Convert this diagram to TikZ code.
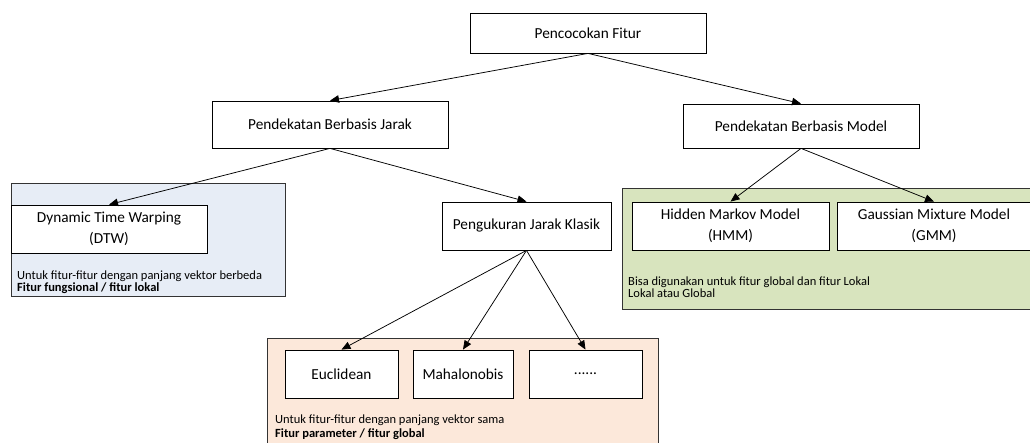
\documentclass[tikz,border=0pt]{standalone}
\usepackage{fontspec}
\setmainfont{Carlito}
\usetikzlibrary{arrows.meta}
\definecolor{panelblue}{RGB}{231,237,246}
\definecolor{panelgreen}{RGB}{216,228,190}
\definecolor{panelorange}{RGB}{252,232,218}
\tikzset{
  panel/.style={draw=black!80, line width=0.8pt},
  box/.style={draw, fill=white, line width=0.8pt, inner sep=2pt, align=center,
    font=\fontsize{15.3}{21}\selectfont},
  note/.style={anchor=base west, inner sep=0pt, align=left,
    font=\fontsize{12.5}{12.5}\selectfont},
  link/.style={-{Triangle[length=9pt,width=7.5pt]}, line width=0.75pt},
}
\begin{document}
\begin{tikzpicture}[x=1pt, y=-1pt]
\useasboundingbox (0,0) rectangle (1030,443);
\clip (0,0) rectangle (1030,443);

% grouping panels behind the leaf boxes
\path[panel, fill=panelblue]   (11,183)  rectangle (285,296);
\path[panel, fill=panelgreen]  (622,188) rectangle (1036,309);
\path[panel, fill=panelorange] (267,338) rectangle (658,450);

% tree nodes
\node[box, minimum width=236pt, minimum height=40pt] (top)   at (588,33)    {Pencocokan Fitur};
\node[box, minimum width=236pt, minimum height=47pt] (jarak) at (330,124.5) {Pendekatan Berbasis Jarak};
\node[box, minimum width=236pt, minimum height=44pt] (model) at (801,126)   {Pendekatan Berbasis Model};

\node[box, minimum width=196pt, minimum height=48pt] (dtw)    at (109,229)   {Dynamic Time Warping\\(DTW)};
\node[box, minimum width=169pt, minimum height=48pt] (klasik) at (526.5,226) {Pengukuran Jarak Klasik};
\node[box, minimum width=197pt, minimum height=48pt] (hmm)    at (730.5,226) {Hidden Markov Model\\(HMM)};
\node[box, minimum width=194pt, minimum height=48pt] (gmm)    at (934,226)   {Gaussian Mixture Model\\(GMM)};

\node[box, minimum width=113pt, minimum height=48pt] (euc)  at (341.5,374) {Euclidean};
\node[box, minimum width=100pt, minimum height=48pt] (maha) at (463,374)   {Mahalonobis};
\node[box, minimum width=113pt, minimum height=48pt] (etc)  at (585.5,374) {......};

% panel captions (anchored on the baseline of their last line)
\node[note] (noteblue) at (17,292) {Untuk fitur-fitur dengan panjang vektor berbeda\\\textbf{Fitur fungsional / fitur lokal}};
\node[note] (notegreen) at (628,298) {Bisa digunakan untuk fitur global dan fitur Lokal\\Lokal atau Global};
\node[note] (noteorange) at (275,437) {Untuk fitur-fitur dengan panjang vektor sama\\[1pt]\textbf{Fitur parameter / fitur global}};

% connectors
\draw[link] (top.south) -- (jarak.north);
\draw[link] (top.south) -- (model.north);
\draw[link] (jarak.south) -- (dtw.north);
\draw[link] (jarak.south) -- (klasik.north);
\draw[link] (model.south) -- (hmm.north);
\draw[link] (model.south) -- (gmm.north);
\draw[link] (klasik.south) -- (euc.north);
\draw[link] (klasik.south) -- (maha.north);
\draw[link] (klasik.south) -- (etc.north);
\end{tikzpicture}
\end{document}
